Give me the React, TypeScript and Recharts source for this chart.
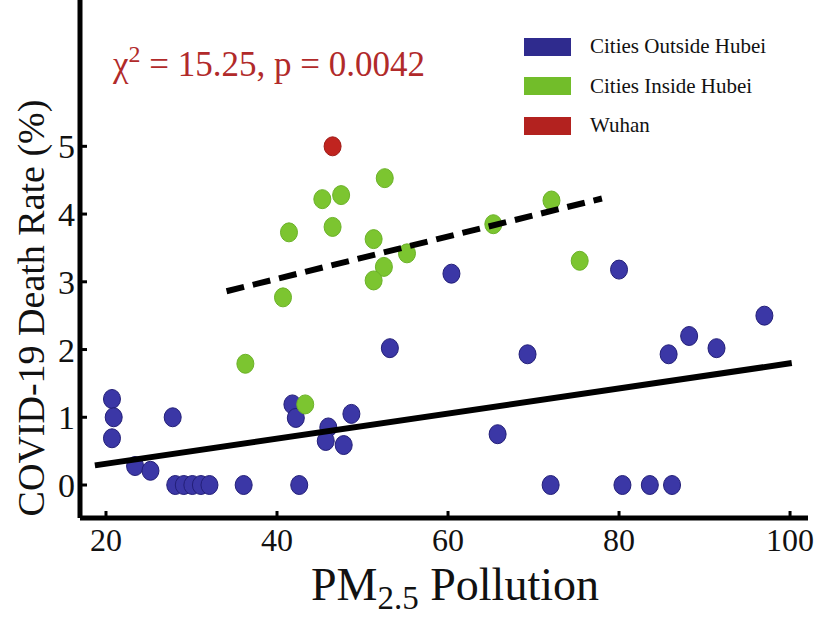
import { ScatterChart, Scatter, XAxis, YAxis, Label } from 'recharts';

// PM2.5 pollution vs COVID-19 death rate
const outsideHubei: [number, number][] = [
  [20.7, 1.27], [20.9, 1.0], [20.7, 0.69], [23.4, 0.28], [25.2, 0.21], [27.8, 1.0],
  [28.1, 0], [29.1, 0], [30.1, 0], [31.1, 0], [32.1, 0], [36.1, 0], [42.6, 0],
  [41.8, 1.19], [42.2, 0.99], [46.0, 0.85], [45.7, 0.65], [47.8, 0.59], [48.7, 1.05],
  [53.2, 2.02], [60.4, 3.12], [80.0, 3.18], [69.3, 1.93], [65.8, 0.75], [72.0, 0],
  [80.4, 0], [83.6, 0], [86.2, 0], [85.8, 1.93], [88.2, 2.2], [91.4, 2.02], [97.0, 2.5],
];
const insideHubei: [number, number][] = [
  [36.3, 1.79], [43.3, 1.19], [40.7, 2.77], [41.4, 3.73], [45.3, 4.22], [47.5, 4.28],
  [46.5, 3.81], [52.6, 4.53], [51.3, 3.63], [52.5, 3.22], [51.3, 3.02], [55.2, 3.42],
  [65.3, 3.85], [72.1, 4.2], [75.4, 3.31],
];
const wuhan: [number, number][] = [[46.5, 5.0]];

// fitted trend lines (end points)
const outsideFit: [number, number][] = [[18.7, 0.29], [100.2, 1.8]];
const insideFit: [number, number][] = [[34.1, 2.86], [78.0, 4.23]];

const xTicks = [20, 40, 60, 80, 100];
const yTicks = [0, 1, 2, 3, 4, 5];

const legendItems = [
  { label: 'Cities Outside Hubei', color: '#2f2b8e' },
  { label: 'Cities Inside Hubei', color: '#72bd2a' },
  { label: 'Wuhan', color: '#b3221f' },
];

const FONT = '"Liberation Serif", "Times New Roman", serif';

const toPoints = (arr: [number, number][]) => arr.map(([x, y]) => ({ x, y }));

const dot = (fill: string, stroke: string) => (props: any) => (
  <ellipse cx={props.cx} cy={props.cy} rx={8.5} ry={9.5} fill={fill} stroke={stroke} strokeWidth={1} />
);

const noDot = () => <g />;

const XTick = ({ x, y, payload }: any) => (
  <g>
    <line x1={x} y1={y} x2={x} y2={y - 7} stroke="#000" strokeWidth={3} />
    <text x={x} y={y + 33} textAnchor="middle" fontSize={32} fontFamily={FONT} fill="#111">
      {payload.value}
    </text>
  </g>
);

const YTick = ({ x, y, payload }: any) => (
  <g>
    <line x1={x} y1={y} x2={x + 7} y2={y} stroke="#000" strokeWidth={3} />
    <text x={x - 5} y={y + 12} textAnchor="end" fontSize={34} fontFamily={FONT} fill="#111">
      {payload.value}
    </text>
  </g>
);

export default function App() {
  return (
    <div style={{ position: 'absolute', left: 0, top: 0, width: 816, height: 618, background: '#fff' }}>
      <ScatterChart width={816} height={618} margin={{ top: 0, right: 8, bottom: 0, left: 20 }}>
        <XAxis
          type="number"
          dataKey="x"
          domain={[16.96, 102.1]}
          ticks={xTicks}
          allowDataOverflow
          height={100}
          tickSize={0}
          tickMargin={0}
          tickLine={false}
          tick={<XTick />}
          axisLine={{ stroke: '#000', strokeWidth: 5 }}
        >
          <Label
            content={() => (
              <text x={455} y={600} textAnchor="middle" fontSize={46} fontFamily={FONT} fill="#111">
                PM<tspan fontSize={33} dy={9}>2.5</tspan>
                <tspan dy={-9}> Pollution</tspan>
              </text>
            )}
          />
        </XAxis>
        <YAxis
          type="number"
          dataKey="y"
          domain={[-0.487, 7.16]}
          ticks={yTicks}
          allowDataOverflow
          width={60}
          tickSize={0}
          tickMargin={0}
          tickLine={false}
          tick={<YTick />}
          axisLine={{ stroke: '#000', strokeWidth: 5 }}
        >
          <Label
            content={() => (
              <text
                transform="translate(44,308) rotate(-90)"
                textAnchor="middle"
                fontSize={38}
                fontFamily={FONT}
                fill="#111"
              >
                COVID-19 Death Rate (%)
              </text>
            )}
          />
        </YAxis>
        <Scatter data={toPoints(outsideHubei)} shape={dot('#3b37a6', '#231f78')} isAnimationActive={false} />
        <Scatter data={toPoints(insideHubei)} shape={dot('#7cc530', '#6bb228')} isAnimationActive={false} />
        <Scatter data={toPoints(wuhan)} shape={dot('#c0241f', '#a01c18')} isAnimationActive={false} />
        <Scatter
          data={toPoints(outsideFit)}
          shape={noDot}
          line={{ stroke: '#000', strokeWidth: 6 }}
          isAnimationActive={false}
        />
        <Scatter
          data={toPoints(insideFit)}
          shape={noDot}
          line={{ stroke: '#000', strokeWidth: 6, strokeDasharray: '18 9' }}
          isAnimationActive={false}
        />
      </ScatterChart>

      <div
        style={{
          position: 'absolute',
          left: 113,
          top: 47,
          fontSize: 35,
          lineHeight: '35px',
          color: '#b12a2a',
          fontFamily: FONT,
          whiteSpace: 'nowrap',
        }}
      >
        χ<span style={{ fontSize: 24, position: 'relative', top: -14 }}>2</span> = 15.25, p = 0.0042
      </div>

      <div style={{ position: 'absolute', left: 524, top: 37, fontFamily: FONT }}>
        {legendItems.map((item) => (
          <div key={item.label} style={{ display: 'flex', alignItems: 'center', height: 19, marginBottom: 20.5 }}>
            <div style={{ width: 47, height: 18, background: item.color }} />
            <span style={{ marginLeft: 19, fontSize: 21, color: '#111', whiteSpace: 'nowrap' }}>{item.label}</span>
          </div>
        ))}
      </div>
    </div>
  );
}
